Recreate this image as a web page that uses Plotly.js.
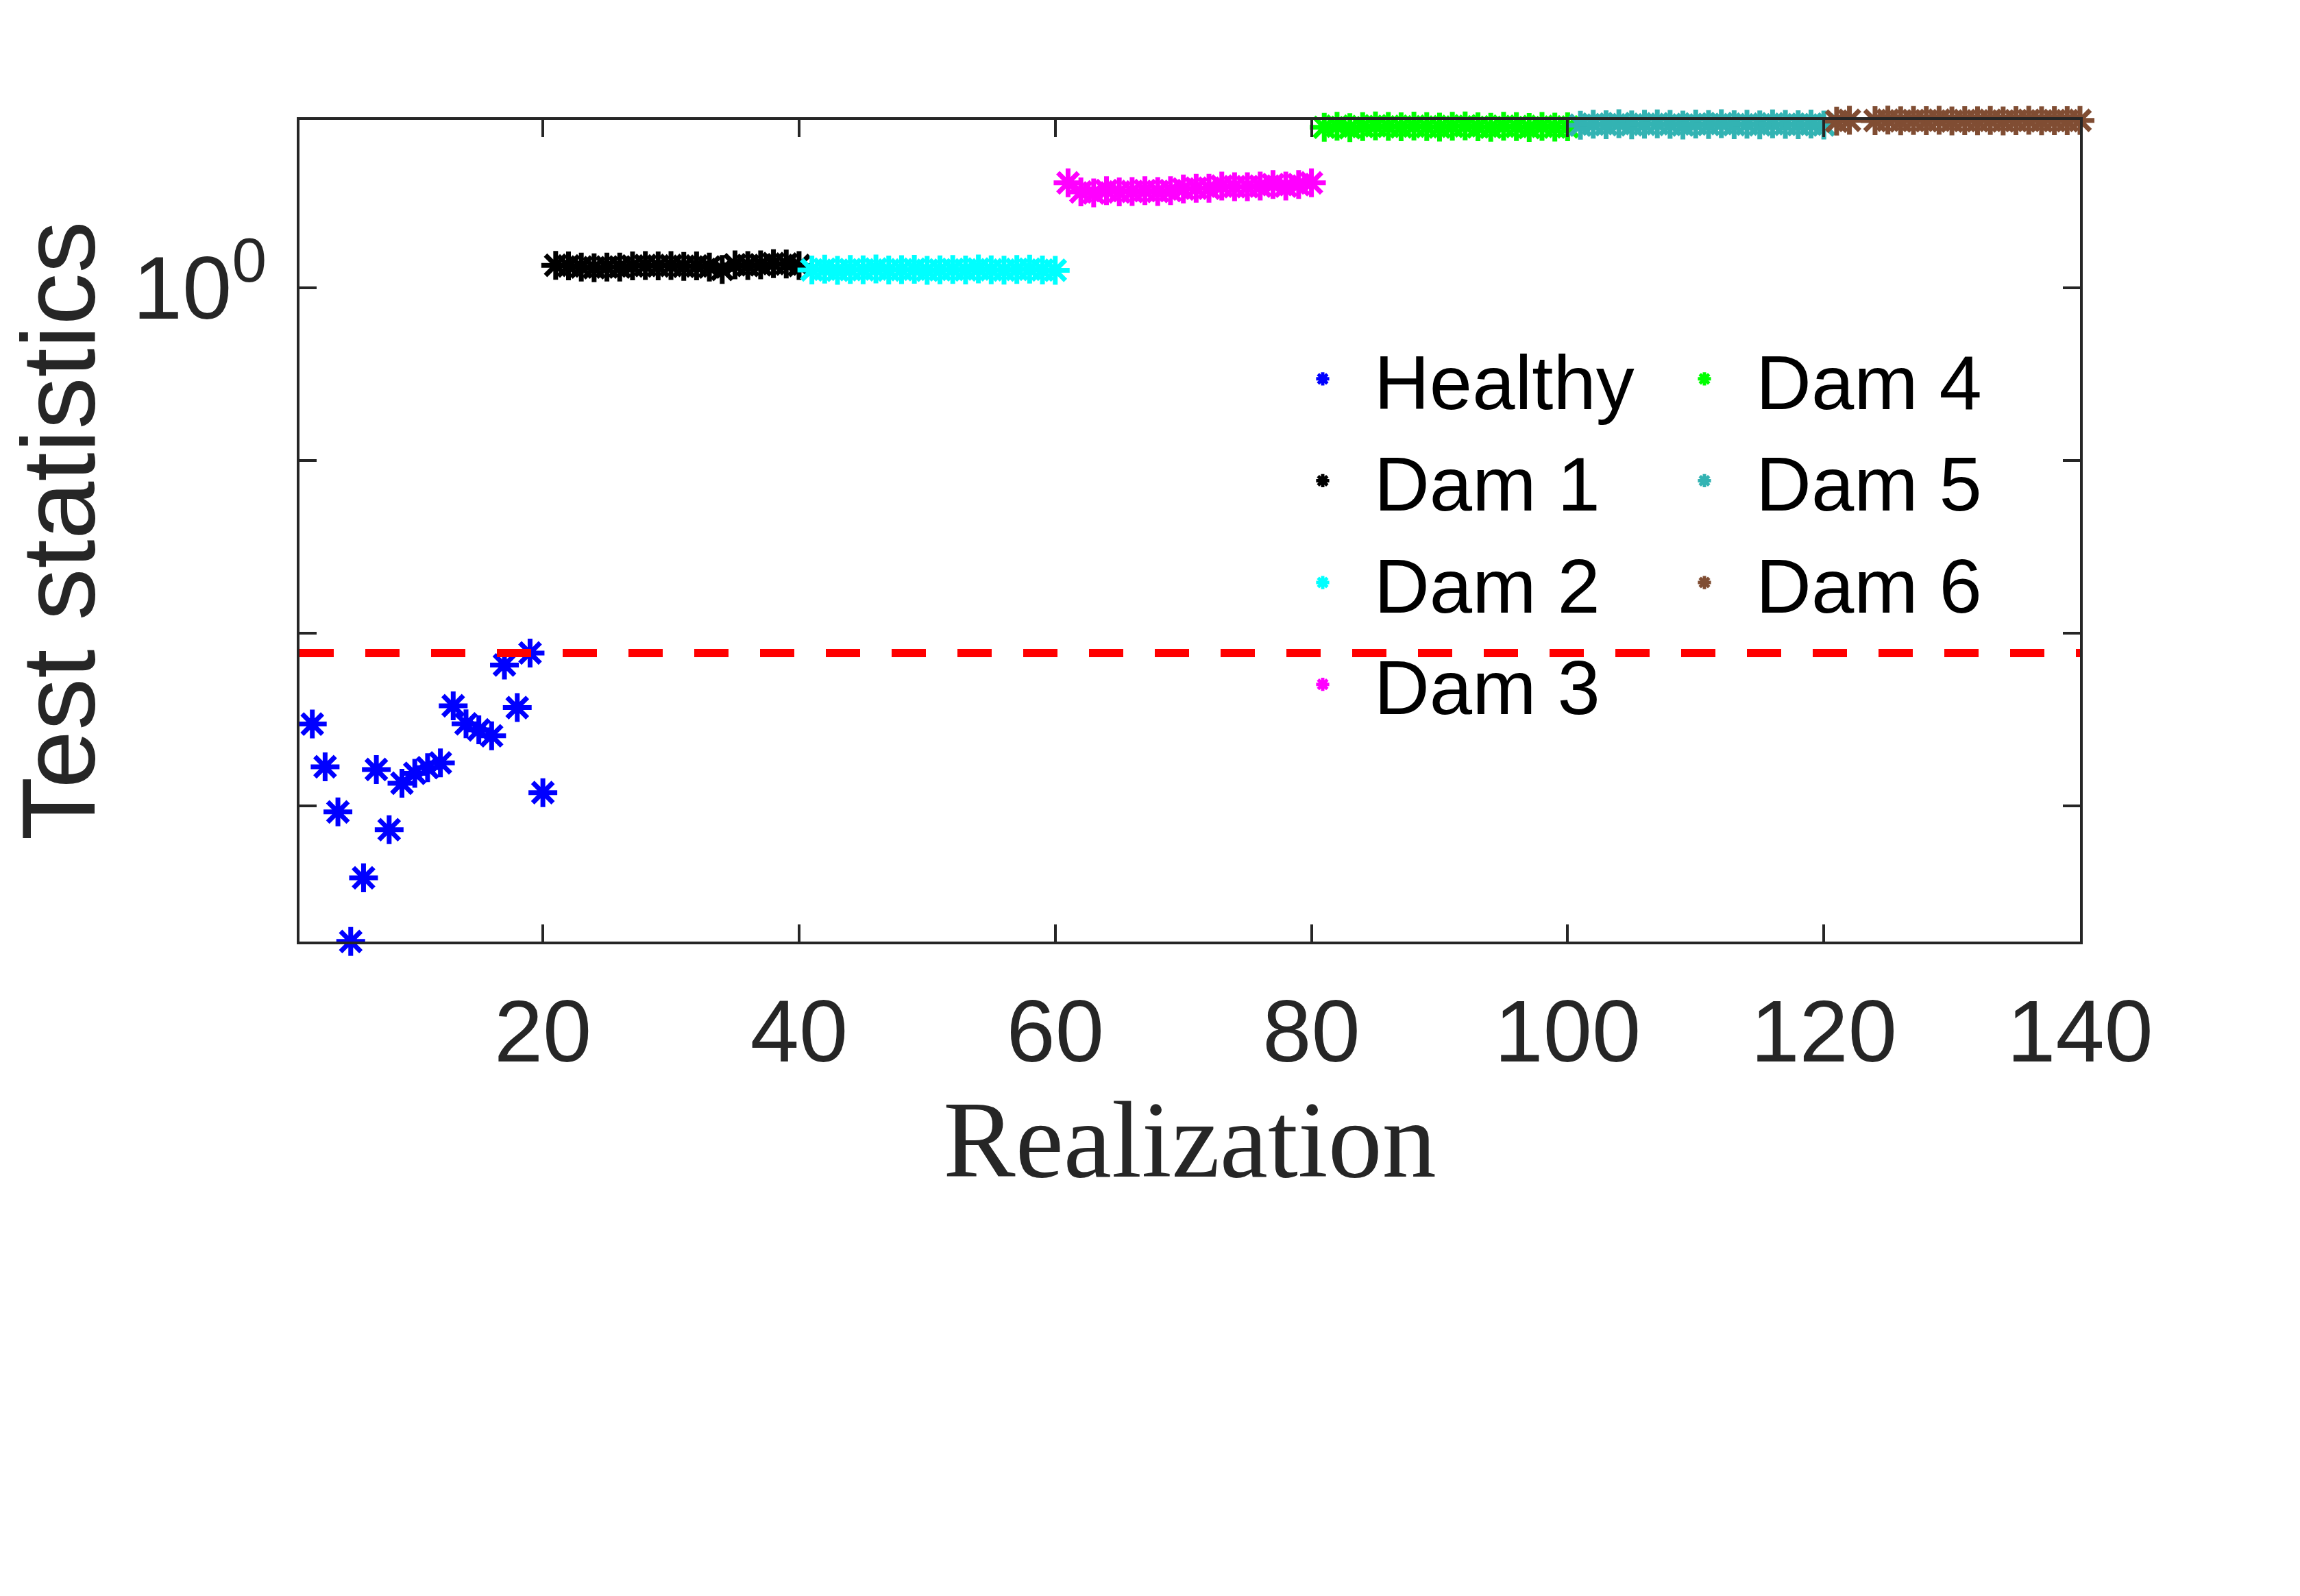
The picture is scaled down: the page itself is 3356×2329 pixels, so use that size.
<!DOCTYPE html>
<html>
<head>
<meta charset="utf-8">
<script src="https://cdn.plot.ly/plotly-3.0.1.min.js"></script>
<style>
  body { margin: 0; background: #fff; }
  #myDiv { width: 3356px; height: 2329px; }
</style>
</head>
<body>
<div id="myDiv"></div>
<script>
// realization numbers where each group starts
var groupStart = [2, 21, 41, 61, 81, 101, 121];
var groupNames = ['Healthy', 'Dam 1', 'Dam 2', 'Dam 3', 'Dam 4', 'Dam 5', 'Dam 6'];
var groupColors = ['#0000ff', '#000000', '#00ffff', '#ff00ff', '#00ff00', '#33b3b3', '#804d33'];

// test statistics (log axis)
var healthy = [0.00297, 0.00168, 0.00092, 0.0001635, 0.000382, 0.00162, 0.000726, 0.00135,
               0.00154, 0.00166, 0.00177, 0.00379, 0.00298, 0.00275, 0.00254, 0.00653,
               0.00370, 0.00766, 0.00119];
var dam1 = [1.349, 1.337, 1.318, 1.306, 1.318, 1.318, 1.337, 1.346, 1.337, 1.346,
            1.330, 1.337, 1.318, 1.276, 1.358, 1.346, 1.358, 1.380, 1.371, 1.346];
var dam2 = [1.268, 1.281, 1.262, 1.275, 1.270, 1.284, 1.266, 1.273, 1.279, 1.262,
            1.270, 1.277, 1.268, 1.283, 1.271, 1.265, 1.276, 1.281, 1.267, 1.262];
var dam3 = [4.05, 3.59, 3.54, 3.65, 3.59, 3.61, 3.65, 3.61, 3.65, 3.73,
            3.77, 3.77, 3.88, 3.85, 3.85, 3.88, 3.96, 3.88, 3.96, 4.05];
var dam4 = [8.50, 8.62, 8.45, 8.58, 8.66, 8.60, 8.55, 8.63, 8.57, 8.52,
            8.61, 8.66, 8.55, 8.50, 8.62, 8.58, 8.47, 8.60, 8.52, 8.55];
var dam5 = [8.74, 8.86, 8.80, 8.92, 8.78, 8.85, 8.90, 8.83, 8.76, 8.88,
            8.82, 8.92, 8.80, 8.86, 8.78, 8.90, 8.84, 8.80, 8.87, 8.76];
var dam6 = [9.22, 9.33, 9.38, 9.30, 9.35, 9.26, 9.31, 9.28, 9.34, 9.24,
            9.30, 9.27, 9.32, 9.25, 9.29, 9.33, 9.26, 9.30, 9.28, 9.32];

var threshold = 0.00766;
var xLimits = [1, 140];
var yLabelVals = [1];
var yLabelText = ['10<sup>0</sup>'];
var yMinorVals = [0.1, 0.01, 0.001];

var series = [healthy, dam1, dam2, dam3, dam4, dam5, dam6];

var data = [];
for (var g = 0; g < series.length; g++) {
  var xs = series[g].map(function (v, i) { return groupStart[g] + i; });
  data.push({
    x: xs,
    y: series[g],
    mode: 'markers',
    type: 'scatter',
    name: groupNames[g],
    legend: g < 4 ? 'legend' : 'legend2',
    cliponaxis: false,
    marker: {
      symbol: 'asterisk-open',
      size: 35,
      color: groupColors[g],
      line: { width: 7, color: groupColors[g] }
    }
  });
}

// threshold line
data.push({
  x: xLimits,
  y: [threshold, threshold],
  mode: 'lines',
  type: 'scatter',
  showlegend: false,
  hoverinfo: 'skip',
  line: { color: '#ff0000', width: 12, dash: '50px,46px' }
});

var legendBase = {
  xanchor: 'left',
  yanchor: 'top',
  bgcolor: 'rgba(0,0,0,0)',
  borderwidth: 0,
  itemwidth: 140,
  tracegroupgap: 0,
  font: { family: 'Liberation Sans, Arial, sans-serif', size: 112, color: '#000000' }
};

var layout = {
  width: 3356,
  height: 2329,
  margin: { l: 437, r: 321, t: 175, b: 955 },
  paper_bgcolor: '#ffffff',
  plot_bgcolor: '#ffffff',
  showlegend: true,
  legend: Object.assign({ x: 0.5458, y: 0.751 }, legendBase),
  legend2: Object.assign({ x: 0.7602, y: 0.751 }, legendBase),
  xaxis: {
    range: xLimits,
    dtick: 20,
    tick0: 0,
    ticks: 'inside',
    ticklen: 25,
    tickwidth: 4,
    tickcolor: '#262626',
    showline: true,
    linecolor: '#262626',
    linewidth: 4,
    mirror: 'ticks',
    showgrid: false,
    zeroline: false,
    ticklabelstandoff: 17,
    tickfont: { family: 'Liberation Sans, Arial, sans-serif', size: 128, color: '#262626' },
    title: {
      text: 'Realization',
      standoff: 0,
      font: { family: 'Liberation Serif, Times New Roman, serif', size: 158, color: '#262626' }
    }
  },
  yaxis: {
    type: 'log',
    range: [-3.787, 0.972],
    tickvals: yLabelVals,
    ticktext: yLabelText,
    ticks: 'inside',
    ticklen: 25,
    tickwidth: 4,
    tickcolor: '#262626',
    minor: {
      tickvals: yMinorVals,
      ticks: 'inside',
      ticklen: 25,
      tickwidth: 4,
      tickcolor: '#262626',
      showgrid: false
    },
    showline: true,
    linecolor: '#262626',
    linewidth: 4,
    mirror: 'ticks',
    showgrid: false,
    zeroline: false,
    ticklabelstandoff: 18,
    tickfont: { family: 'Liberation Sans, Arial, sans-serif', size: 130, color: '#262626' },
    title: {
      text: 'Test statistics',
      standoff: 45,
      font: { family: 'Liberation Sans, Arial, sans-serif', size: 152, color: '#262626' }
    }
  }
};

Plotly.newPlot('myDiv', data, layout, { displayModeBar: false, staticPlot: true });
</script>
</body>
</html>
